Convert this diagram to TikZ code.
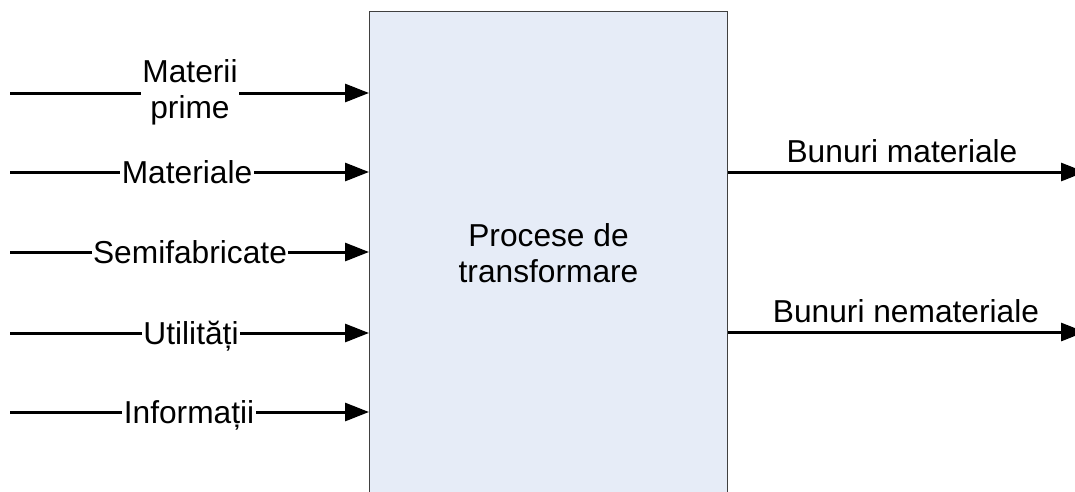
\documentclass[tikz,border=0pt]{standalone}
\usepackage{fontspec}
\setmainfont{Liberation Sans}
\usetikzlibrary{arrows.meta}
\begin{document}
\begin{tikzpicture}[x=1pt,y=-1pt,
  txt/.style={font=\fontsize{31.7}{36}\selectfont},
  flow/.style={line width=3pt, -{Triangle[length=24pt,width=18pt]}},
  inlbl/.style={txt, fill=white, inner sep=1.5pt, anchor=base},
  outlbl/.style={txt, inner sep=0pt, anchor=base},
  procbox/.style={draw=black!75, fill=procfill, line width=1pt, inner sep=0pt,
    minimum width=358pt, minimum height=483pt, anchor=north west, align=center, txt}]
\definecolor{procfill}{RGB}{230,236,247}
\useasboundingbox (0,0) rectangle (1075,491);
\clip (0,0) rectangle (1075,491);
\node[procbox] (box) at (369,11) {Procese de\\transformare};
% inputs
\coordinate (s1) at (10,93);
\coordinate (s2) at (10,172);
\coordinate (s3) at (10,252);
\coordinate (s4) at (10,333);
\coordinate (s5) at (10,412);
\foreach \s in {s1,s2,s3,s4,s5}{
  \draw[flow] (\s) -- (\s -| box.west);
}
\node[txt, fill=white, inner sep=1.5pt, align=center] (l1) at (190,92) {Materii\\prime};
\node[inlbl] (l2) at (187,183.5) {Materiale};
\node[inlbl] (l3) at (190,263.5) {Semifabricate};
\node[inlbl] (l4) at (191,344.5) {Utilități};
\node[inlbl] (l5) at (189,423.5) {Informații};
% outputs
\coordinate (o1) at (1085,172);
\coordinate (o2) at (1085,332);
\draw[flow] (o1 -| box.east) -- (o1);
\draw[flow] (o2 -| box.east) -- (o2);
\node[outlbl] (r1) at (902,162) {Bunuri materiale};
\node[outlbl] (r2) at (906,322) {Bunuri nemateriale};
\end{tikzpicture}
\end{document}
